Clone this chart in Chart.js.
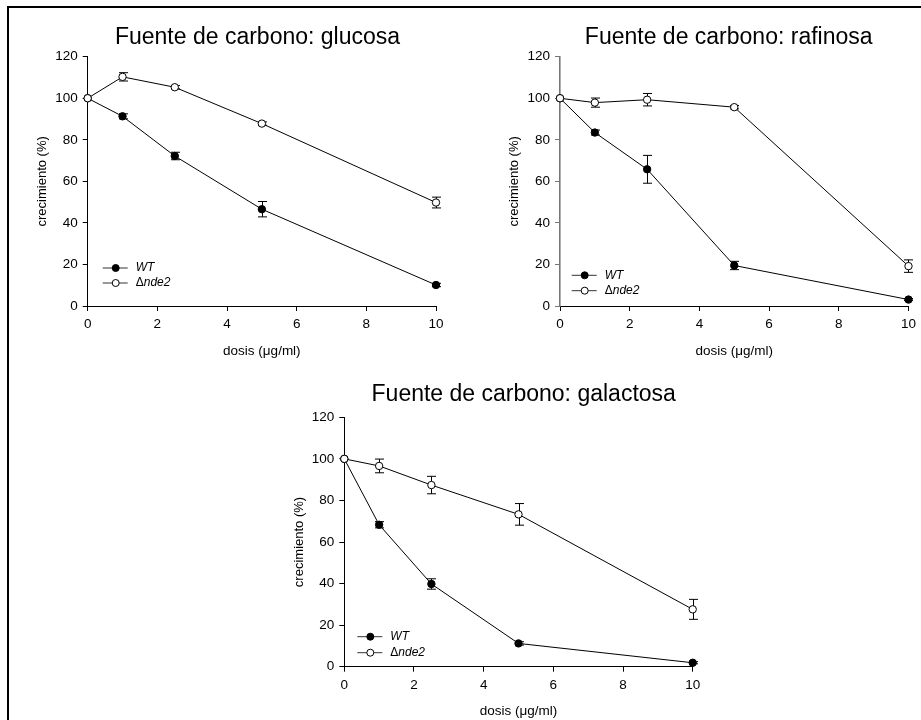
<!DOCTYPE html>
<html>
<head>
<meta charset="utf-8">
<script src="https://cdn.jsdelivr.net/npm/chart.js@4.4.0/dist/chart.umd.min.js"></script>
<style>
  body { margin: 0; background: #fff; width: 921px; height: 720px; overflow: hidden; position: relative; }
  canvas { position: absolute; }
  #frame { position: absolute; left: 7px; top: 6px; width: 940px; height: 740px; border-top: 2px solid #000; border-left: 2px solid #000; }
</style>
</head>
<body>
<div id="frame"></div>
<canvas id="glucosa" width="460" height="360" style="left:0;top:0"></canvas>
<canvas id="rafinosa" width="461" height="360" style="left:460px;top:0"></canvas>
<canvas id="galactosa" width="481" height="360" style="left:240px;top:360px"></canvas>
<script>
// dosis (ug/ml)
const doses = [0, 1, 2.5, 5, 10];
const seriesNames = ['WT', 'Δnde2'];

// crecimiento (%) con glucosa
const glucosaWT = [100, 91.3, 72.2, 46.6, 10.1];
const glucosaWTErr = [0, 1.2, 1.8, 3.7, 0.8];
const glucosaNde2 = [100, 110.3, 105.3, 87.8, 49.8];
const glucosaNde2Err = [0, 2, 0.8, 0.8, 2.6];

// rafinosa
const rafinosaWT = [100, 83.5, 65.8, 19.5, 3.1];
const rafinosaWTErr = [0, 1.2, 6.7, 2, 0.5];
const rafinosaNde2 = [100, 97.9, 99.3, 95.7, 19.2];
const rafinosaNde2Err = [0, 2.2, 3, 0.8, 3];

// galactosa
const galactosaWT = [100, 68.3, 39.8, 11.2, 1.9];
const galactosaWTErr = [0, 1.5, 2.5, 0.8, 0.5];
const galactosaNde2 = [100, 96.6, 87.4, 73.3, 27.6];
const galactosaNde2Err = [0, 3.3, 4.2, 5.2, 4.8];

const FONT = "'Liberation Sans', Arial, sans-serif";
Chart.defaults.font.family = FONT;
Chart.defaults.color = '#000';

// error bars, drawn under the markers
const errorBars = {
  id: 'errorBars',
  beforeDatasetsDraw(chart) {
    const {ctx, scales: {x, y}} = chart;
    ctx.save();
    ctx.strokeStyle = '#000';
    ctx.lineWidth = 1;
    chart.data.datasets.forEach(ds => {
      (ds.err || []).forEach((e, i) => {
        if (!e) return;
        const px = Math.round(x.getPixelForValue(ds.data[i].x)) + 0.5;
        const top = y.getPixelForValue(ds.data[i].y + e);
        const bot = y.getPixelForValue(ds.data[i].y - e);
        ctx.beginPath();
        ctx.moveTo(px, top); ctx.lineTo(px, bot);
        ctx.moveTo(px - 4.5, top); ctx.lineTo(px + 4.5, top);
        ctx.moveTo(px - 4.5, bot); ctx.lineTo(px + 4.5, bot);
        ctx.stroke();
      });
    });
    ctx.restore();
  }
};

// title at a set place + small legend inside the plot
const panelText = {
  id: 'panelText',
  afterDraw(chart, args, opts) {
    const {ctx, chartArea} = chart;
    ctx.save();
    ctx.fillStyle = '#000';
    ctx.font = '23px ' + FONT;
    ctx.textAlign = 'center';
    ctx.textBaseline = 'alphabetic';
    ctx.fillText(opts.title, opts.titleX, opts.titleY);

    chart.data.datasets.forEach((ds, i) => {
      const x0 = chartArea.left + opts.dx;
      const yy = chartArea.bottom - opts.rows[i];
      ctx.strokeStyle = '#333';
      ctx.lineWidth = 1;
      ctx.beginPath();
      ctx.moveTo(x0, yy); ctx.lineTo(x0 + 25, yy);
      ctx.stroke();
      ctx.beginPath();
      ctx.arc(x0 + 13, yy, 3.5, 0, Math.PI * 2);
      ctx.fillStyle = ds.pointBackgroundColor;
      ctx.fill();
      ctx.strokeStyle = '#000';
      ctx.stroke();
      ctx.fillStyle = '#000';
      ctx.textAlign = 'left';
      ctx.textBaseline = 'middle';
      let tx = x0 + 33;
      let name = ds.label;
      if (name.startsWith('Δ')) {
        ctx.font = '12px ' + FONT;
        ctx.fillText('Δ', tx, yy);
        tx += ctx.measureText('Δ').width;
        name = name.slice(1);
      }
      ctx.font = 'italic 12px ' + FONT;
      ctx.fillText(name, tx, yy);
    });
    ctx.restore();
  }
};

function makePanel(id, title, wt, wtErr, nde, ndeErr, geo) {
  const pts = arr => doses.map((d, i) => ({x: d, y: arr[i]}));
  const tickFont = {size: 13.5};
  return new Chart(document.getElementById(id), {
    type: 'line',
    data: {
      datasets: [
        { label: seriesNames[0], data: pts(wt), err: wtErr, order: 2,
          borderColor: '#000', borderWidth: 1, pointRadius: 3.7, pointBorderWidth: 1,
          pointBackgroundColor: '#000', pointBorderColor: '#000', clip: false },
        { label: seriesNames[1], data: pts(nde), err: ndeErr, order: 1,
          borderColor: '#000', borderWidth: 1, pointRadius: 3.7, pointBorderWidth: 1,
          pointBackgroundColor: '#fff', pointBorderColor: '#000', clip: false }
      ]
    },
    options: {
      responsive: false,
      animation: false,
      layout: { padding: { left: 0, top: geo.top, right: geo.right, bottom: 0 } },
      plugins: {
        legend: { display: false },
        tooltip: { enabled: false },
        panelText: { title: title, titleX: geo.titleX, titleY: geo.titleY, dx: geo.dx, rows: geo.rows }
      },
      scales: {
        x: {
          type: 'linear', min: 0, max: 10,
          ticks: { stepSize: 2, font: tickFont, padding: 5, color: '#000' },
          grid: { drawOnChartArea: false, drawTicks: true, tickLength: 5, color: '#000' },
          border: { display: true, color: '#000', width: 1 },
          title: { display: true, text: 'dosis (μg/ml)', font: {size: 13.5}, padding: {top: 0, bottom: 0.5} },
          afterFit: s => { s.height = geo.xH; }
        },
        y: {
          min: 0, max: 120,
          ticks: { stepSize: 20, font: tickFont, padding: 5, color: '#000' },
          grid: { drawOnChartArea: false, drawTicks: true, tickLength: 5, color: geo.yColor },
          border: { display: true, color: geo.yColor, width: geo.yWidth },
          title: { display: true, text: 'crecimiento (%)', font: {size: 13}, padding: {top: geo.yTitlePad, bottom: 0} },
          afterFit: s => { s.width = geo.yW; }
        }
      }
    },
    plugins: [errorBars, panelText]
  });
}

makePanel('glucosa', 'Fuente de carbono: glucosa', glucosaWT, glucosaWTErr, glucosaNde2, glucosaNde2Err,
  { top: 56.7, right: 24, xH: 54, yW: 87.7, yTitlePad: 35, yColor: '#000', yWidth: 1,
    titleX: 257.5, titleY: 44, dx: 15, rows: [38, 23] });

makePanel('rafinosa', 'Fuente de carbono: rafinosa', rafinosaWT, rafinosaWTErr, rafinosaNde2, rafinosaNde2Err,
  { top: 56.7, right: 12.3, xH: 54, yW: 100, yTitlePad: 46.7, yColor: '#777', yWidth: 1.6,
    titleX: 268.7, titleY: 44, dx: 11.7, rows: [30.7, 15.3] });

makePanel('galactosa', 'Fuente de carbono: galactosa', galactosaWT, galactosaWTErr, galactosaNde2, galactosaNde2Err,
  { top: 57.3, right: 28.3, xH: 53.3, yW: 104.3, yTitlePad: 51.9, yColor: '#000', yWidth: 1,
    titleX: 283.7, titleY: 40.7, dx: 13, rows: [30, 14] });
</script>
</body>
</html>
